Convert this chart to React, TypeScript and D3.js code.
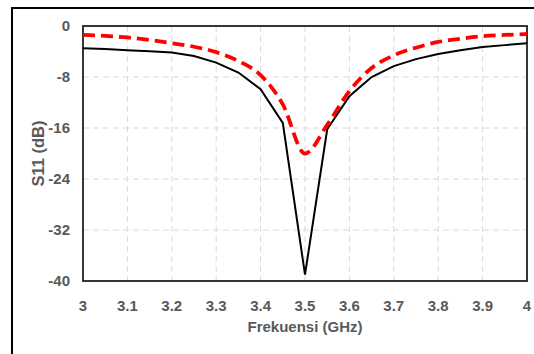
import * as d3 from 'd3';
import { useEffect, useRef } from 'react';

// frequency points (GHz)
const freq = [3.0, 3.05, 3.1, 3.15, 3.2, 3.25, 3.3, 3.35, 3.4, 3.45, 3.5,
  3.55, 3.6, 3.65, 3.7, 3.75, 3.8, 3.85, 3.9, 3.95, 4.0];

// solid black curve (S11, dB)
const s11Solid = [-3.5, -3.6, -3.8, -3.95, -4.15, -4.7, -5.75, -7.3, -9.9, -15.2, -39.0,
  -16.2, -11.0, -8.0, -6.3, -5.2, -4.4, -3.8, -3.3, -3.0, -2.7];

// red dashed curve (S11, dB)
const s11Dashed = [-1.4, -1.55, -1.8, -2.2, -2.7, -3.25, -4.1, -5.5, -7.7, -12.3, -20.0,
  -15.5, -10.2, -6.6, -4.6, -3.4, -2.5, -2.0, -1.6, -1.4, -1.25];

const xTicks = [3, 3.1, 3.2, 3.3, 3.4, 3.5, 3.6, 3.7, 3.8, 3.9, 4];
const yTicks = [0, -8, -16, -24, -32, -40];

const App = () => {
  const ref = useRef<SVGSVGElement>(null);

  useEffect(() => {
    const width = 534;
    const height = 354;
    const margin = { top: 26, right: 7, bottom: 73, left: 83 };
    const font = '"Liberation Sans", Arial, sans-serif';
    const textColor = '#595959';

    const svg = d3.select(ref.current);
    svg.selectAll('*').remove();

    // outer chart frame (runs off the right and bottom of the picture)
    svg.append('rect')
      .attr('x', 12).attr('y', 8)
      .attr('width', 560).attr('height', 400)
      .attr('fill', 'white')
      .attr('stroke', '#000')
      .attr('stroke-width', 2);

    const x = d3.scaleLinear()
      .domain([3, 4])
      .range([margin.left, width - margin.right]);

    const y = d3.scaleLinear()
      .domain([-40, 0])
      .range([height - margin.bottom, margin.top]);

    const grid = svg.append('g')
      .attr('stroke', '#d9d9d9')
      .attr('stroke-width', 1)
      .attr('stroke-dasharray', '6,4');

    grid.selectAll('line.vx')
      .data(xTicks.slice(1, -1))
      .enter().append('line')
      .attr('class', 'vx')
      .attr('x1', d => x(d)).attr('x2', d => x(d))
      .attr('y1', y(0)).attr('y2', y(-40));

    grid.selectAll('line.hy')
      .data(yTicks.slice(1, -1))
      .enter().append('line')
      .attr('class', 'hy')
      .attr('x1', x(3)).attr('x2', x(4))
      .attr('y1', d => y(d)).attr('y2', d => y(d));

    // plot border
    svg.append('rect')
      .attr('x', x(3)).attr('y', y(0))
      .attr('width', x(4) - x(3))
      .attr('height', y(-40) - y(0))
      .attr('fill', 'none')
      .attr('stroke', '#1a1a1a')
      .attr('stroke-width', 1.75);

    const line = d3.line<number>()
      .x((d, i) => x(freq[i]))
      .y(d => y(d));

    svg.append('path')
      .datum(s11Solid)
      .attr('d', line)
      .attr('fill', 'none')
      .attr('stroke', '#000')
      .attr('stroke-width', 2)
      .attr('stroke-linejoin', 'miter');

    svg.append('path')
      .datum(s11Dashed)
      .attr('d', line.curve(d3.curveMonotoneX))
      .attr('fill', 'none')
      .attr('stroke', '#ff0000')
      .attr('stroke-width', 3.75)
      .attr('stroke-dasharray', '12,6');

    // x axis labels
    svg.append('g')
      .selectAll('text')
      .data(xTicks)
      .enter().append('text')
      .attr('x', d => x(d))
      .attr('y', y(-40) + 30)
      .attr('text-anchor', 'middle')
      .attr('font-family', font)
      .attr('font-weight', 'bold')
      .attr('font-size', 15)
      .attr('fill', textColor)
      .text(d => d3.format('')(d));

    // y axis labels
    svg.append('g')
      .selectAll('text')
      .data(yTicks)
      .enter().append('text')
      .attr('x', x(3) - 13)
      .attr('y', d => y(d))
      .attr('dy', '0.36em')
      .attr('text-anchor', 'end')
      .attr('font-family', font)
      .attr('font-weight', 'bold')
      .attr('font-size', 15)
      .attr('fill', textColor)
      .text(d => d);

    svg.append('text')
      .attr('x', (x(3) + x(4)) / 2)
      .attr('y', 332)
      .attr('text-anchor', 'middle')
      .attr('font-family', font)
      .attr('font-weight', 'bold')
      .attr('font-size', 15)
      .attr('fill', textColor)
      .text('Frekuensi (GHz)');

    svg.append('text')
      .attr('transform', `translate(44,${(y(0) + y(-40)) / 2}) rotate(-90)`)
      .attr('text-anchor', 'middle')
      .attr('font-family', font)
      .attr('font-weight', 'bold')
      .attr('font-size', 16.5)
      .attr('fill', textColor)
      .text('S11 (dB)');
  }, []);

  return (
    <svg
      ref={ref}
      width={534}
      height={354}
      style={{ position: 'absolute', left: 0, top: 0, background: 'white' }}
    />
  );
};

export default App;
